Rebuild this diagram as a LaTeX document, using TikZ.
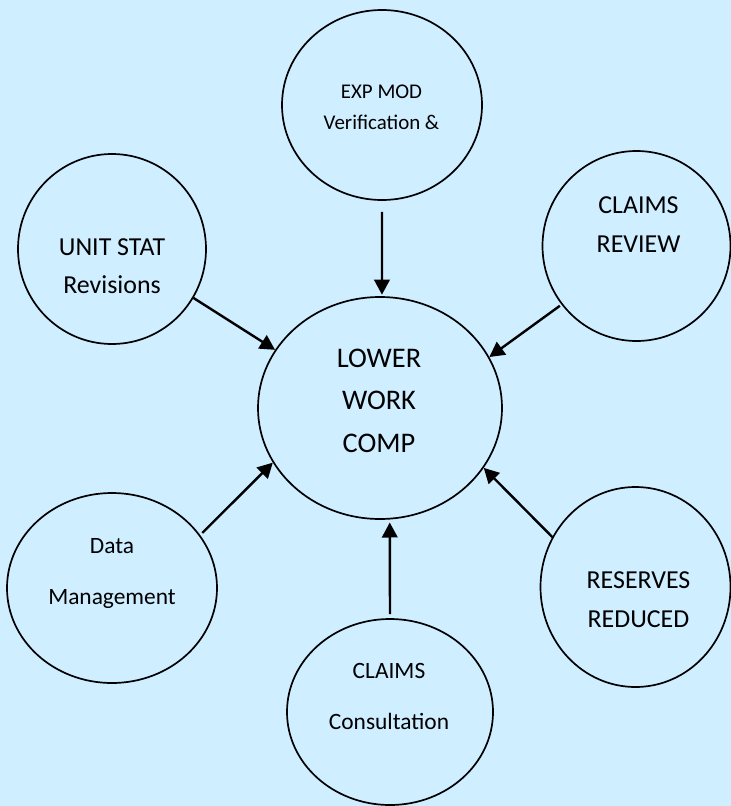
\documentclass[tikz,border=0pt]{standalone}
\usepackage{fontspec}
\setmainfont{Carlito}
\usetikzlibrary{shapes.geometric,arrows.meta}
\definecolor{bgblue}{RGB}{207,238,255}
\tikzset{
  bubble/.style={ellipse, draw=black, line width=1.7bp, inner sep=0pt, fill=bgblue},
  txt/.style={anchor=base, inner sep=0pt, text=black},
  arr/.style={line width=2.4bp, -{Triangle[length=15bp,width=15.5bp]}},
}
\begin{document}
\begin{tikzpicture}[x=1bp,y=-1bp]
\fill[bgblue] (0,0) rectangle (731,806);
\useasboundingbox (0,0) rectangle (731,806);
% bubbles
\node[bubble, minimum width=244bp, minimum height=222bp] (low) at (380,408) {};
\node[bubble, minimum width=200bp, minimum height=190bp] (exp) at (382,105) {};
\node[bubble, minimum width=188bp, minimum height=190bp] (unit) at (112,249) {};
\node[bubble, minimum width=188bp, minimum height=190bp] (rev) at (636.5,246) {};
\node[bubble, minimum width=190bp, minimum height=200bp] (res) at (635.5,587) {};
\node[bubble, minimum width=210bp, minimum height=190bp] (data) at (112,588) {};
\node[bubble, minimum width=206bp, minimum height=186bp] (cons) at (390,712) {};
% texts
\begin{scope}[txt/.append style={font=\fontsize{28.5}{34}\selectfont}]
\node[txt] (lowA) at (379,367) {LOWER};
\node[txt] (lowB) at (379,409.5) {WORK};
\node[txt] (lowC) at (379,452) {COMP};
\end{scope}
\begin{scope}[txt/.append style={font=\fontsize{21}{25}\selectfont}]
\node[txt] (expA) at (381.5,98.5) {EXP MOD};
\node[txt] (expB) at (381.5,129.5) {Verification \&};
\end{scope}
\begin{scope}[txt/.append style={font=\fontsize{26}{31}\selectfont}]
\node[txt] (unitA) at (112,255) {UNIT STAT};
\node[txt] (unitB) at (112,293) {Revisions};
\node[txt] (revA) at (638.5,213) {CLAIMS};
\node[txt] (revB) at (638.5,252) {REVIEW};
\node[txt] (resA) at (638.5,588) {RESERVES};
\node[txt] (resB) at (638.5,627) {REDUCED};
\end{scope}
\begin{scope}[txt/.append style={font=\fontsize{23.5}{28}\selectfont}]
\node[txt] (dataA) at (112,553) {Data};
\node[txt] (dataB) at (112,604) {Management};
\node[txt] (consA) at (389,678) {CLAIMS};
\node[txt] (consB) at (389,729) {Consultation};
\end{scope}
% connectors
\draw[arr, shorten <=11bp, shorten >=1.5bp] (exp.-90.5) -- (low.89.5);
\draw[arr] (unit.-31) -- (low.151);
\draw[arr, shorten <=2bp] (rev.218) -- (low.25);
\draw[arr] (res.149) -- (low.-30);
\draw[arr, shorten <=4bp, shorten >=3bp] (cons.north) -- (low.-85.5);
\draw[arr, shorten <=3bp] (data.31) -- (low.207);
\end{tikzpicture}
\end{document}
